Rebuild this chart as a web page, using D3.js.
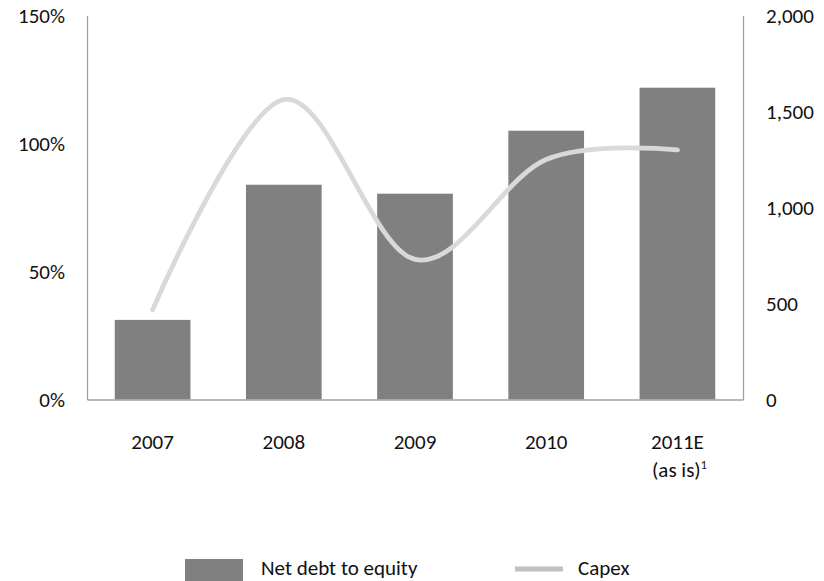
<!DOCTYPE html>
<html lang="en">
<head>
<meta charset="UTF-8">
<title>Net debt to equity and Capex</title>
<script src="https://d3js.org/d3.v7.min.js"></script>
<style>
  body { margin: 0; background: #fff; }
  text { font-family: Carlito, Lato, "Liberation Sans", sans-serif; fill: #111; }
</style>
</head>
<body>
<div id="chart"></div>
<script>
// chart data
const years = ["2007", "2008", "2009", "2010", "2011E"];
const netDebtToEquity = [0.311, 0.839, 0.804, 1.05, 1.218];
const capex = [467, 1562, 730, 1250, 1300];
const leftTicks = [0, 0.5, 1, 1.5];
const rightTicks = [0, 500, 1000, 1500, 2000];

const W = 824, H = 581;
const margin = { top: 15.5, right: 81, bottom: 181.5, left: 87 };
const innerW = W - margin.left - margin.right;
const innerH = H - margin.top - margin.bottom;
const fontSize = 21;

const svg = d3.select("#chart").append("svg")
    .attr("width", W)
    .attr("height", H);

const g = svg.append("g")
    .attr("transform", `translate(${margin.left},${margin.top})`);

const x = d3.scaleBand().domain(years).range([0, innerW]).padding(0);
const barW = x.bandwidth() * 0.577;
const yL = d3.scaleLinear().domain([0, 1.5]).range([innerH, 0]);
const yR = d3.scaleLinear().domain([0, 2000]).range([innerH, 0]);

// bars
g.selectAll(".bar")
    .data(years)
    .enter().append("rect")
    .attr("class", "bar")
    .attr("x", d => x(d) + (x.bandwidth() - barW) / 2)
    .attr("y", (d, i) => yL(netDebtToEquity[i]))
    .attr("width", barW)
    .attr("height", (d, i) => innerH - yL(netDebtToEquity[i]))
    .attr("fill", "#808080");

// capex smoothed line
const line = d3.line()
    .x((d, i) => x(years[i]) + x.bandwidth() / 2)
    .y(d => yR(d))
    .curve(d3.curveCatmullRom.alpha(0));

g.append("path")
    .datum(capex)
    .attr("d", line)
    .attr("fill", "none")
    .attr("stroke", "#d9d9d9")
    .attr("stroke-width", 4.8)
    .attr("stroke-linecap", "round");

// axes
const axisColor = "#a0a0a0";
const leftAxis = g.append("g")
    .call(d3.axisLeft(yL).tickValues(leftTicks).tickFormat(d3.format(".0%")).tickSize(0).tickPadding(22));
const rightAxis = g.append("g")
    .attr("transform", `translate(${innerW},0)`)
    .call(d3.axisRight(yR).tickValues(rightTicks).tickFormat(d3.format(",")).tickSize(0).tickPadding(23));
const bottomAxis = g.append("g")
    .attr("transform", `translate(0,${innerH})`)
    .call(d3.axisBottom(x).tickSize(0).tickFormat(""));

[leftAxis, rightAxis, bottomAxis].forEach(a => {
    a.select(".domain").attr("stroke", axisColor).attr("stroke-width", 1.3);
    a.selectAll("text").attr("font-size", fontSize).attr("font-family", null).style("fill", "#111");
});

// category labels (last one has a second line)
g.append("g").selectAll("text")
    .data(years)
    .enter().append("text")
    .attr("x", d => x(d) + x.bandwidth() / 2)
    .attr("y", innerH + 49)
    .attr("text-anchor", "middle")
    .attr("font-size", fontSize)
    .text(d => d);

const note = g.append("text")
    .attr("x", x("2011E") + x.bandwidth() / 2 + 2)
    .attr("y", innerH + 77)
    .attr("text-anchor", "middle")
    .attr("font-size", fontSize);
note.append("tspan").text("(as is)");
note.append("tspan").attr("font-size", 12).attr("dy", -8).text("1");

// legend
const legend = svg.append("g");
legend.append("rect")
    .attr("x", 185).attr("y", 559)
    .attr("width", 58).attr("height", 22)
    .attr("fill", "#808080");
legend.append("text")
    .attr("x", 261).attr("y", 575)
    .attr("font-size", fontSize)
    .text("Net debt to equity");
legend.append("line")
    .attr("x1", 515).attr("x2", 563)
    .attr("y1", 569).attr("y2", 569)
    .attr("stroke", "#c0c0c0")
    .attr("stroke-width", 5);
legend.append("text")
    .attr("x", 578).attr("y", 575)
    .attr("font-size", fontSize)
    .text("Capex");
</script>
</body>
</html>
